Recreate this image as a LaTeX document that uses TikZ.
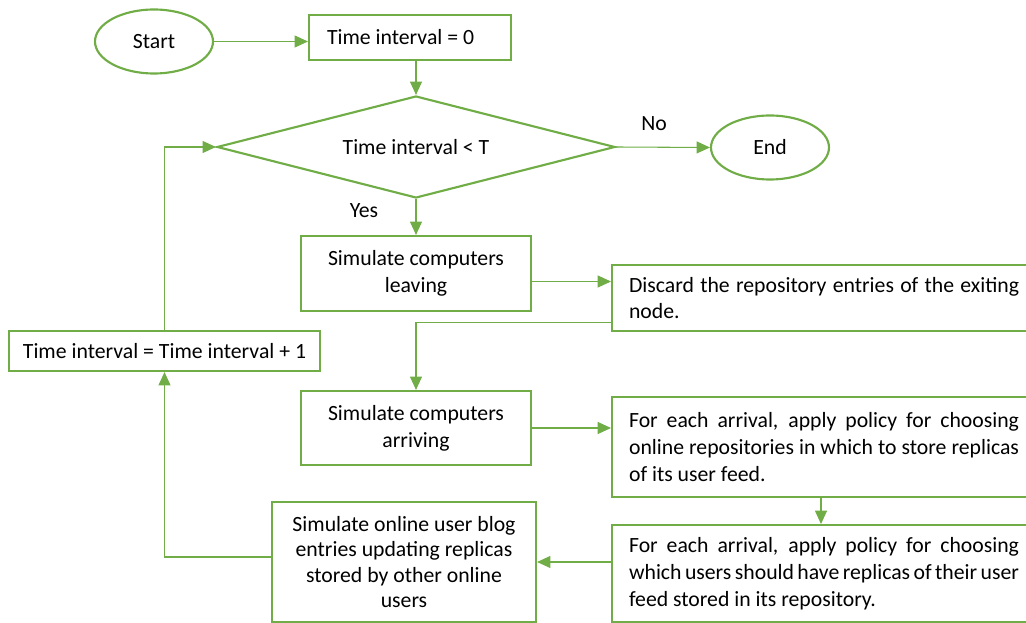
\documentclass[tikz,border=0pt]{standalone}
\usepackage{fontspec}
\setmainfont{Carlito}
\usetikzlibrary{shapes.geometric,arrows.meta,calc}
\definecolor{flowgreen}{HTML}{70AD47}
\tikzset{
  blk/.style={draw=flowgreen, line width=1.6pt, rectangle, align=center, inner sep=2pt},
  term/.style={draw=flowgreen, line width=1.6pt, ellipse, minimum width=88.5pt, minimum height=48pt},
  link/.style={draw=flowgreen, line width=0.8pt, -{Triangle[length=10pt,width=9pt]}},
  wide/.style={blk, anchor=north west, text width=292.5pt, inner xsep=12.75pt, align=justify},
}

\begin{document}
\begin{tikzpicture}[x=0.75pt, y=-0.75pt, font=\fontsize{16.3}{20}\selectfont]
\clip (0,0) rectangle (1026,623);
% terminals and decision
\node[term] (start) at (154,41.5) {Start};
\node[term] (stop) at (770,147.5) {End};
\node[blk, text width=124.5pt, inner xsep=13.5pt, align=flush left, minimum height=33.75pt] (init) at (410,37.5) {Time interval = 0};
\node[draw=flowgreen, line width=1.6pt, diamond, aspect=3.9, minimum width=298.5pt, minimum height=76.5pt, inner sep=0pt] (test) at (416,147) {Time interval < T};
% main column
\node[blk, minimum width=172.5pt, minimum height=56.25pt] (leave) at (416,273.5) {Simulate computers\\leaving};
\node[blk, minimum width=172.5pt, minimum height=55.5pt] (arrive) at (416,428) {Simulate computers\\arriving};
\node[blk, minimum width=198pt, minimum height=90pt, font=\fontsize{16.3}{19}\selectfont] (blog) at (404,562) {Simulate online user blog\\entries updating replicas\\stored by other online\\users};
\node[blk, minimum width=233.25pt, minimum height=30pt] (incr) at (164.5,351) {Time interval = Time interval + 1};
% right column
\node[wide, minimum height=49.5pt] (discard) at (611,264) {Discard the repository entries of the exiting node.};
\node[wide, minimum height=75pt] (repo) at (611,396) {For each arrival, apply policy for choosing\linebreak online repositories in which to store replicas\linebreak of its user feed.};
\node[wide, minimum height=72.75pt] (users) at (611,524) {For each arrival, apply policy for choosing\linebreak which users should have replicas of their user\linebreak feed stored in its repository.};
% labels
\node (no) at (654,124) {No};
\node (yes) at (364,211) {Yes};
% connectors
\draw[link] (start.east) -- (start.east -| init.west);
\draw[link] (init.south -| test.north) -- (test.north);
\draw[link] (test.east) -- (stop.west);
\draw[link] (test.south) -- (leave.north);
\draw[link] ($(leave.east)+(0,8)$) -- ($(leave.east -| discard.west)+(0,8)$);
\draw[link] ($(discard.south west)+(0,-10)$) -| (arrive.north);
\draw[link] (arrive.east) -- (arrive.east -| repo.west);
\draw[link] (repo.south -| 821,0) -- (users.north -| 821,0);
\draw[link] (users.west |- blog.east) -- (blog.east);
\draw[link] ($(blog.west)+(0,-5)$) -| (incr.south);
\draw[link] (incr.north) |- (test.west);
\end{tikzpicture}
\end{document}
